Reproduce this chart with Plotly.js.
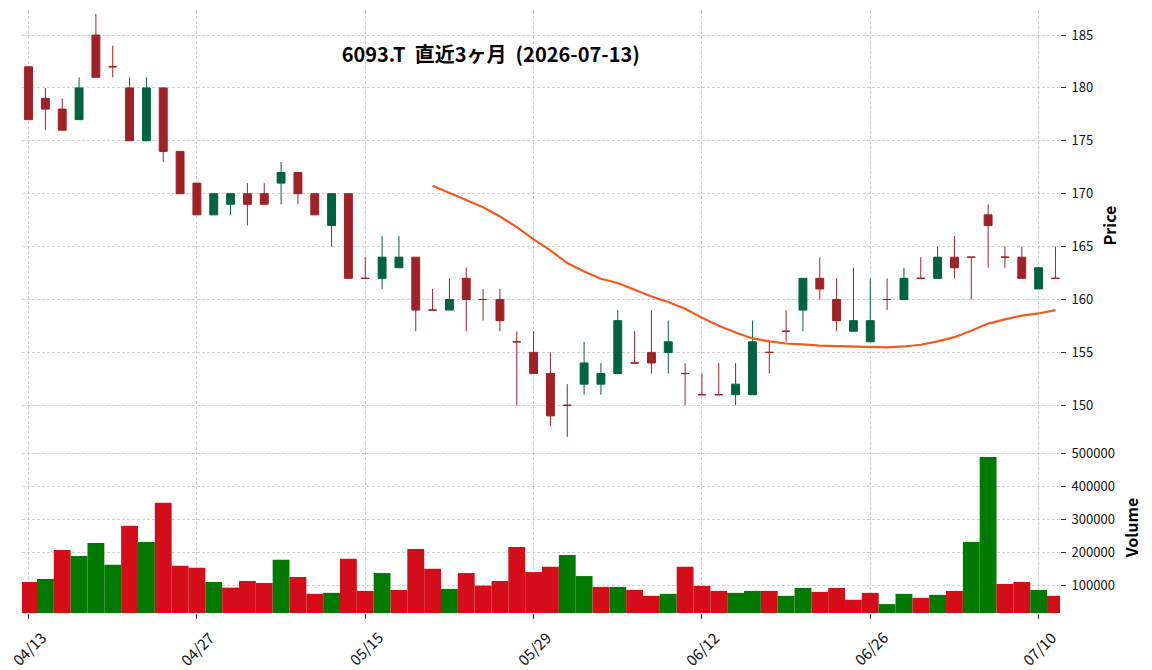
<!DOCTYPE html>
<html>
<head>
<meta charset="utf-8">
<script src="https://cdn.plot.ly/plotly-3.0.1.min.js"></script>
<style>html,body{margin:0;padding:0;background:#fff;}#chart{width:1152px;height:670px;}</style>
</head>
<body>
<div id="chart"></div>
<script>
// ---- data ----
const dates = [
 "2026-04-13","2026-04-14","2026-04-15","2026-04-16","2026-04-17",
 "2026-04-20","2026-04-21","2026-04-22","2026-04-23","2026-04-24",
 "2026-04-27","2026-04-28","2026-04-30","2026-05-01","2026-05-07",
 "2026-05-08","2026-05-11","2026-05-12","2026-05-13","2026-05-14",
 "2026-05-15","2026-05-18","2026-05-19","2026-05-20","2026-05-21",
 "2026-05-22","2026-05-25","2026-05-26","2026-05-27","2026-05-28",
 "2026-05-29","2026-06-01","2026-06-02","2026-06-03","2026-06-04",
 "2026-06-05","2026-06-08","2026-06-09","2026-06-10","2026-06-11",
 "2026-06-12","2026-06-15","2026-06-16","2026-06-17","2026-06-18",
 "2026-06-19","2026-06-22","2026-06-23","2026-06-24","2026-06-25",
 "2026-06-26","2026-06-29","2026-06-30","2026-07-01","2026-07-02",
 "2026-07-03","2026-07-06","2026-07-07","2026-07-08","2026-07-09",
 "2026-07-10","2026-07-13"];
const openP  = [182,179,178,177,185,182,180,175,180,174,171,168,169,170,170,171,172,170,167,170,162,162,163,164,159,159,162,160,160,156,155,153,150,152,152,153,154,155,155,153,151,151,151,151,155,157,159,162,160,157,156,160,160,162,162,164,164,168,164,164,161,162];
const highP  = [182,180,179,181,187,184,181,181,180,174,171,170,170,171,171,173,172,170,170,170,164,166,166,164,161,162,163,161,161,157,157,155,152,156,154,159,157,159,158,154,153,154,154,158,156,159,162,164,162,163,162,162,163,164,165,166,164,169,165,165,163,165];
const lowP   = [177,176,176,177,181,181,175,175,173,170,168,168,168,167,169,169,169,168,165,162,162,161,163,157,159,159,157,158,157,150,153,148,147,151,151,153,154,153,153,150,151,151,150,151,153,156,157,160,157,157,156,159,160,162,162,162,160,163,163,162,161,162];
const closeP = [177,178,176,180,181,182,175,180,174,170,168,170,170,169,169,172,170,168,170,162,162,164,164,159,159,160,160,160,158,156,153,149,150,154,153,158,154,154,156,153,151,151,152,156,155,157,162,161,158,158,158,160,162,162,164,163,164,167,164,162,163,162];
const volume = [110000,119000,207000,189000,228000,162000,280000,231000,350000,159000,
                153000,110000,93000,113000,107000,177000,125000,74000,77000,180000,
                83000,137000,86000,210000,150000,89000,137000,99000,113000,216000,
                140000,156000,192000,128000,95000,95000,86000,68000,74000,156000,
                98000,83000,77000,83000,83000,68000,92000,80000,92000,56000,
                77000,43000,74000,62000,71000,83000,231000,489000,104000,110000,
                86000,68000];
const ma25 = [null,null,null,null,null,null,null,null,null,null,null,null,
              null,null,null,null,null,null,null,null,null,null,null,null,
              170.76,170.08,169.36,168.72,167.84,166.84,165.68,164.64,163.44,162.64,
              161.96,161.56,160.92,160.28,159.76,159.12,158.28,157.52,156.88,156.32,
              156.04,155.84,155.76,155.64,155.60,155.56,155.48,155.48,155.56,155.72,
              156.04,156.44,157.04,157.72,158.12,158.48,158.68,159.00];
const tickIdx = [0,10,20,30,40,50,60];
const volTicks = [100000,200000,300000,400000,500000];
const titleText = "6093.T\u00a0\u00a0直近3ヶ月\u00a0\u00a0(2026-07-13)";

// ---- styling ----
const UP = '#006340', DOWN = '#a02128';
const VUP = '#007a00', VDOWN = '#d50d18';
const MA_COLOR = '#f35b1e';
const GRID = '#c4c4c4';
const FONT = '"Noto Sans CJK JP", "Noto Sans", sans-serif';

const idx = dates.map((d, i) => i);
function pick(arr, cond) { return idx.filter(cond).map(i => arr[i]); }
const isUp = i => closeP[i] > openP[i];
const isDown = i => !(closeP[i] > openP[i]);

function candle(cond, color) {
  return {
    type: 'candlestick', xaxis: 'x', yaxis: 'y',
    x: pick(idx, cond), open: pick(openP, cond), high: pick(highP, cond),
    low: pick(lowP, cond), close: pick(closeP, cond),
    increasing: {line: {color: color, width: 1}, fillcolor: color},
    decreasing: {line: {color: color, width: 1}, fillcolor: color},
    whiskerwidth: 0, showlegend: false, hoverinfo: 'skip'
  };
}

const volColors = idx.map(i => (i > 0 && closeP[i] > closeP[i-1]) ? VUP : VDOWN);

const traces = [
  candle(isUp, UP),
  candle(isDown, DOWN),
  {type: 'scatter', mode: 'lines', x: idx, y: ma25, xaxis: 'x', yaxis: 'y',
   line: {color: MA_COLOR, width: 2.2}, showlegend: false, hoverinfo: 'skip'},
  {type: 'bar', x: idx, y: volume, xaxis: 'x2', yaxis: 'y2', width: 1,
   marker: {color: volColors, line: {width: 0}}, showlegend: false, hoverinfo: 'skip'}
];

const ticktext = tickIdx.map(i => dates[i].slice(5).replace('-', '/'));
const gridCommon = {showgrid: true, gridcolor: GRID, gridwidth: 0.8, griddash: '3px,2px',
                    zeroline: false, showline: false};

// rotated date labels centred under their ticks (as real text)
const dateLabels = tickIdx.map((v, k) => ({
  xref: 'x2', yref: 'paper', x: v, y: 0, text: ticktext[k],
  textangle: -45, showarrow: false, xanchor: 'center', yanchor: 'top',
  yshift: -11, font: {family: FONT, size: 15, color: '#111'}
}));

const layout = {
  width: 1152, height: 670,
  margin: {l: 22, r: 92, t: 11, b: 57},
  paper_bgcolor: '#fff', plot_bgcolor: '#fff',
  font: {family: FONT, size: 13, color: '#111'},
  showlegend: false,
  boxgap: 0.33,
  title: {text: titleText, x: 0.426, xanchor: 'center', y: 0.918, yanchor: 'middle',
          font: {family: FONT, size: 20, color: '#000', weight: 'bold'}},
  annotations: dateLabels,
  xaxis: Object.assign({}, gridCommon, {
    anchor: 'y', domain: [0, 1], range: [-0.39, 61.27],
    tickmode: 'array', tickvals: tickIdx, ticktext: ticktext,
    showticklabels: false, ticks: '', rangeslider: {visible: false}
  }),
  xaxis2: Object.assign({}, gridCommon, {
    anchor: 'y2', domain: [0, 1], matches: 'x', range: [-0.39, 61.27],
    tickmode: 'array', tickvals: tickIdx, ticktext: ticktext,
    showticklabels: false, ticks: 'outside', ticklen: 5, tickcolor: '#333', tickwidth: 1
  }),
  yaxis: Object.assign({}, gridCommon, {
    anchor: 'x', domain: [0.2874, 1], side: 'right', range: [146.72, 187.27],
    tickmode: 'linear', tick0: 150, dtick: 5,
    ticks: 'outside', ticklen: 5, tickcolor: '#333', tickwidth: 1, ticklabelstandoff: 3,
    title: {text: 'Price', font: {size: 16, weight: 'bold', color: '#000'}, standoff: 12}
  }),
  yaxis2: Object.assign({}, gridCommon, {
    anchor: 'x2', domain: [0, 0.284], side: 'right', range: [16000, 534000],
    tickmode: 'array', tickvals: volTicks, tickformat: 'd',
    ticks: 'outside', ticklen: 5, tickcolor: '#333', tickwidth: 1, ticklabelstandoff: 3,
    title: {text: 'Volume', font: {size: 16, weight: 'bold', color: '#000'}, standoff: 12}
  })
};

Plotly.newPlot('chart', traces, layout, {staticPlot: true, displayModeBar: false});
</script>
</body>
</html>
